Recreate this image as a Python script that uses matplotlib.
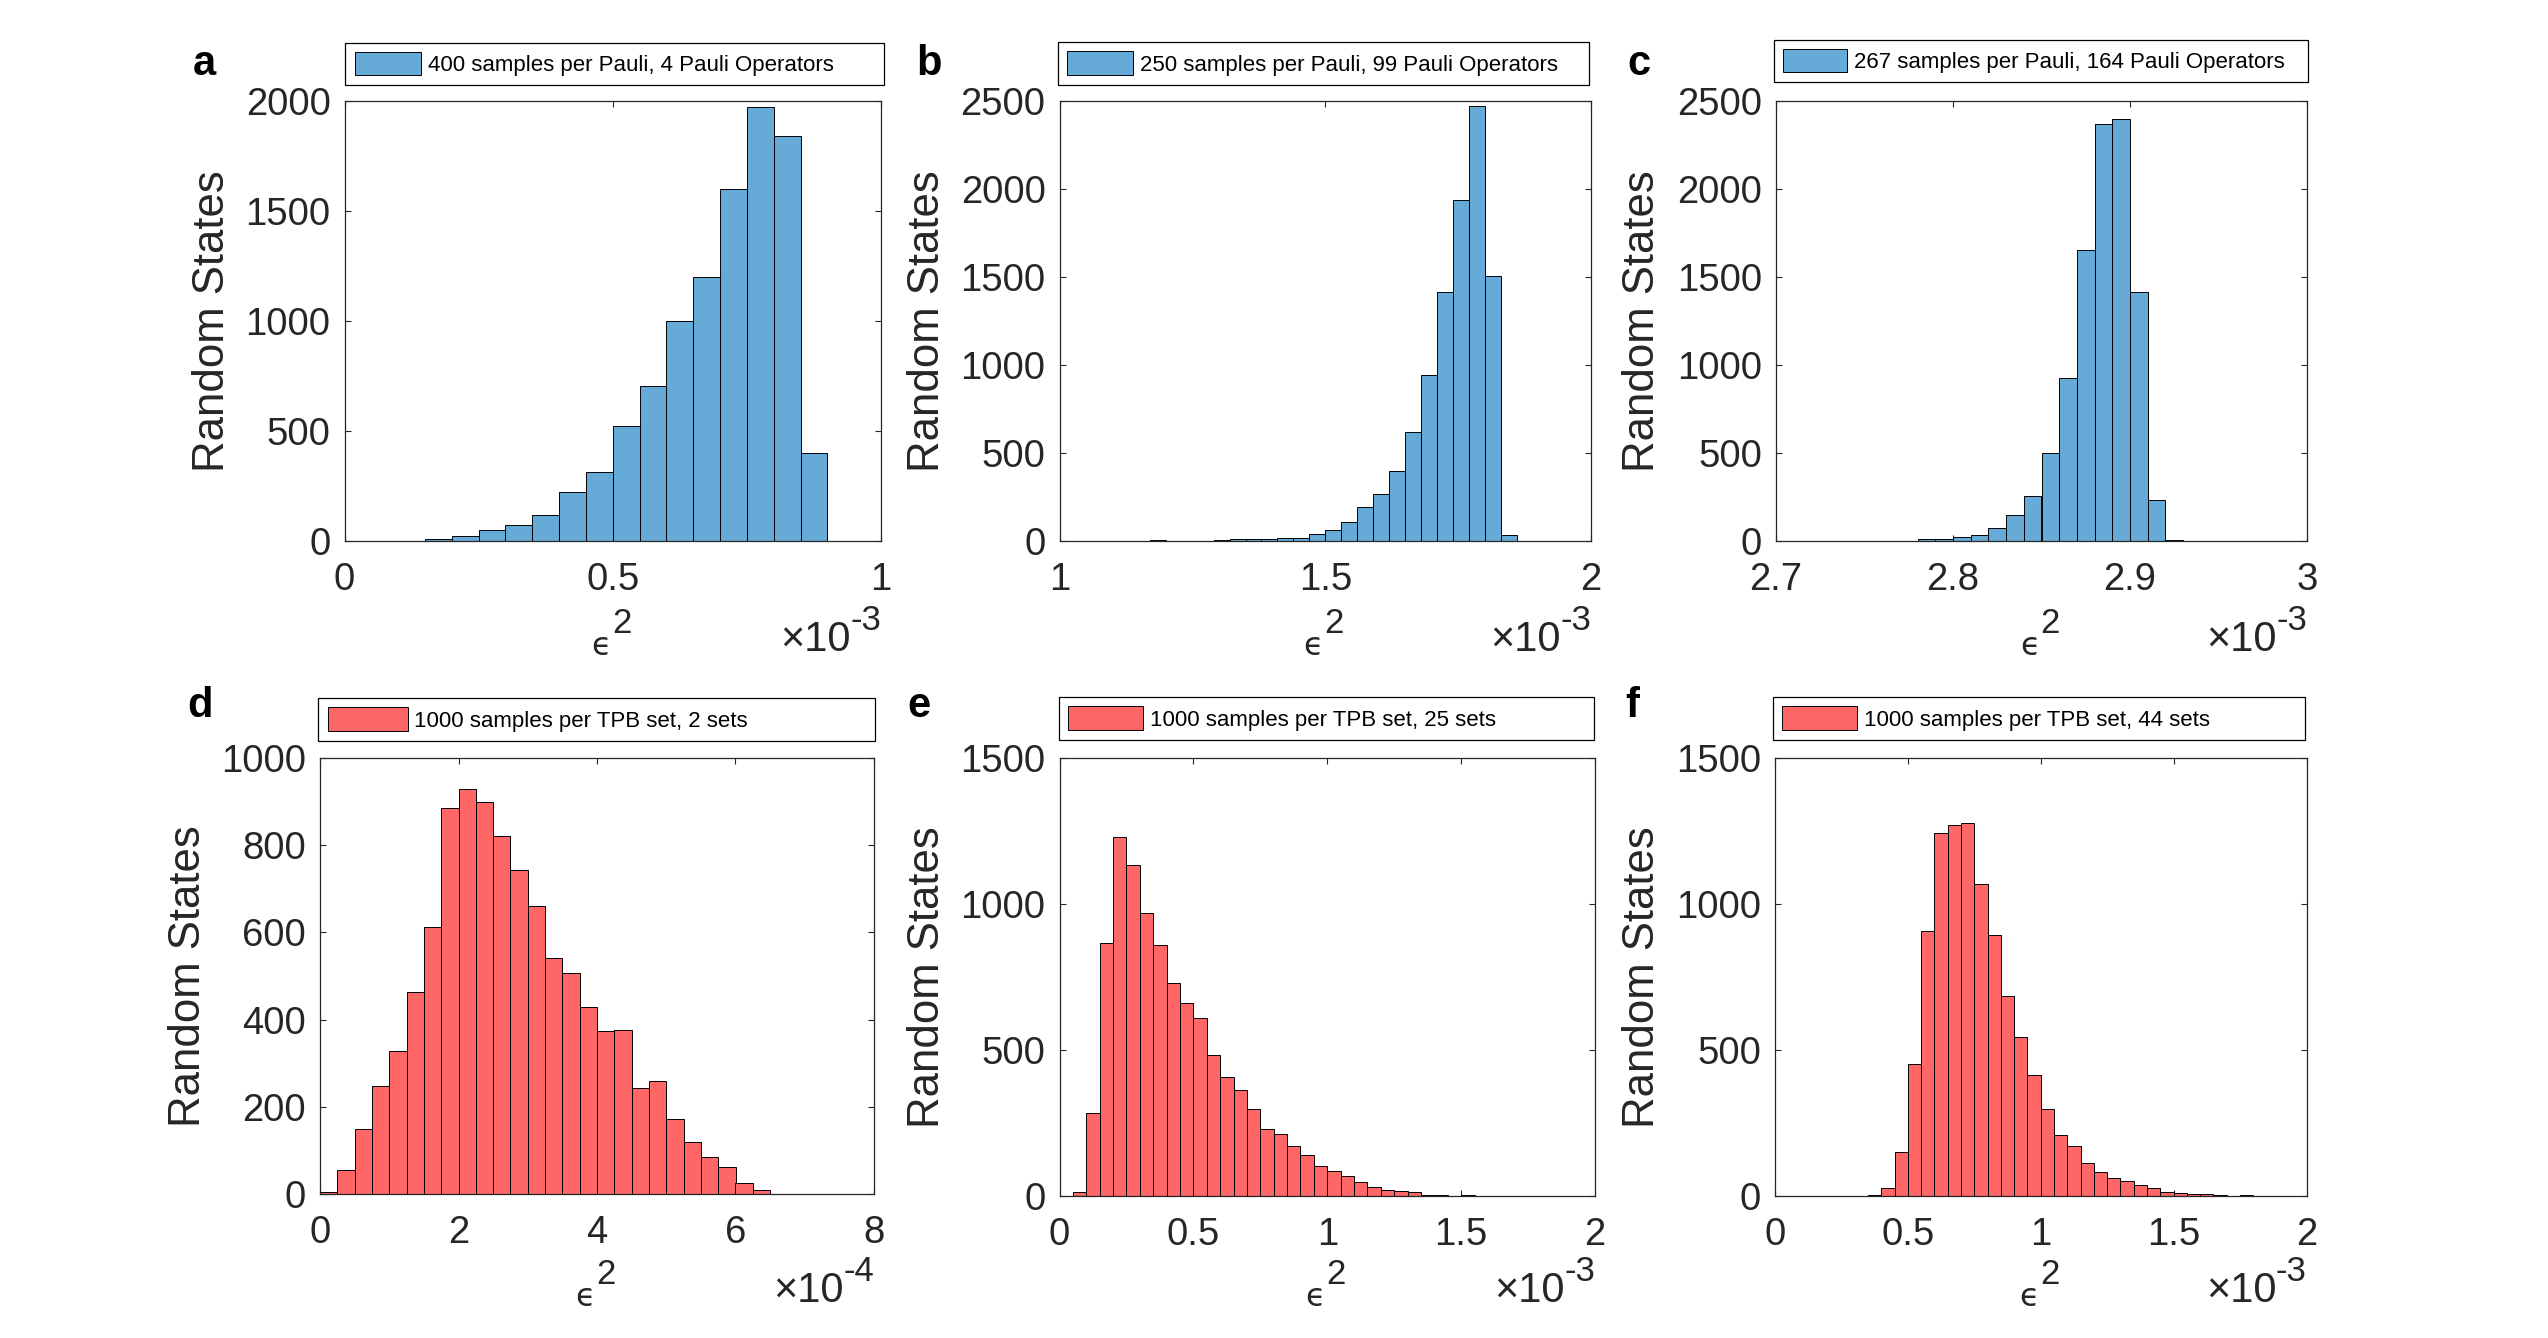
import numpy as np
import matplotlib.pyplot as plt
from matplotlib.ticker import FuncFormatter

W, H = 2548, 1338
TXT = "#262626"
BLUE = "#66AAD7"
RED = "#FF6666"

plt.rcParams["font.family"] = ["Liberation Sans", "DejaVu Sans"]

# x values are in the units printed next to each axis (x10^-3, or x10^-4 for d)
a_start, a_width = 0.15, 0.05
a_counts = [7, 21, 48, 72, 120, 222, 312, 522, 703, 1001, 1200, 1600, 1971, 1840, 398]

b_start, b_width = 1.17, 0.03
b_counts = [3, 1, 1, 2, 4, 10, 10, 11, 18, 18, 41, 63, 108, 194, 268, 395,
            620, 941, 1415, 1940, 2470, 1505, 34]

c_start, c_width = 2.73, 0.01
c_counts = [2, 2, 2, 2, 2, 11, 11, 25, 34, 74, 149, 257, 501, 925, 1656,
            2367, 2397, 1415, 232, 4]

d_start, d_width = 0.0, 0.25
d_counts = [4, 54, 148, 247, 329, 464, 612, 886, 929, 900, 821, 743, 660,
            542, 508, 428, 375, 377, 242, 260, 171, 120, 85, 62, 26, 9]

e_start, e_width = 0.05, 0.05
e_counts = [14, 285, 866, 1228, 1134, 968, 859, 728, 660, 610, 483, 406, 362,
            298, 231, 214, 170, 142, 102, 84, 70, 47, 30, 21, 17, 14, 3, 3, 1, 3]

f_start, f_width = 0.35, 0.05
f_counts = [3, 27, 149, 453, 908, 1243, 1271, 1278, 1069, 894, 686, 543, 416,
            297, 208, 170, 112, 81, 60, 50, 38, 29, 14, 10, 7, 7, 3, 0, 3]

legend_labels = [
    "400 samples per Pauli, 4 Pauli Operators",
    "250 samples per Pauli, 99 Pauli Operators",
    "267 samples per Pauli, 164 Pauli Operators",
    "1000 samples per TPB set, 2 sets",
    "1000 samples per TPB set, 25 sets",
    "1000 samples per TPB set, 44 sets",
]
letters = ["a", "b", "c", "d", "e", "f"]
exponents = ["-3", "-3", "-3", "-4", "-3", "-3"]
x_limits = [(0, 1), (1, 2), (2.7, 3), (0, 8), (0, 2), (0, 2)]
x_ticks = [[0, 0.5, 1], [1, 1.5, 2], [2.7, 2.8, 2.9, 3], [0, 2, 4, 6, 8],
           [0, 0.5, 1, 1.5, 2], [0, 0.5, 1, 1.5, 2]]
y_limits = [2000, 2500, 2500, 1000, 1500, 1500]
y_steps = [500, 500, 500, 200, 500, 500]

# pixel layout: axes (l, t, r, b), legend box (l, t, r, b), letter x, ylabel x
layout = [
    dict(axes=(344.5, 101, 881, 541), leg=(345.5, 41, 883.5, 87), let=193, yl=212, hl=3.0),
    dict(axes=(1059.5, 101, 1591, 541), leg=(1058, 40, 1589, 87), let=916, yl=927, hl=2.95),
    dict(axes=(1776, 101, 2307, 541), leg=(1773.5, 37, 2308, 85), let=1627, yl=1643, hl=2.9),
    dict(axes=(320, 758, 874, 1194), leg=(318.5, 696, 874.5, 743), let=187, yl=188, hl=3.6),
    dict(axes=(1059.5, 758, 1595, 1196), leg=(1058.5, 692, 1594, 745), let=907, yl=927, hl=3.4),
    dict(axes=(1775, 758, 2306.5, 1196), leg=(1772.5, 692, 2305, 745), let=1625, yl=1643, hl=3.4),
]
# baselines of the panel letters and the x-label pieces, per row
row_text = [
    dict(letter=75, eps=655, sq=633, ten=651, sup=630),
    dict(letter=717, eps=1306, sq=1284, ten=1302, sup=1281),
]


def fx(x):
    return x / W


def fy(y):
    return 1 - y / H


def draw_panel(fig, i, start, width, counts, color):
    lay = layout[i]
    rows = row_text[i // 3]
    l, t, r, b = lay["axes"]
    ax = fig.add_axes([fx(l), fy(b), (r - l) / W, (b - t) / H])

    edges = start + width * np.arange(len(counts) + 1)
    ax.bar(edges[:-1], counts, width=np.diff(edges), align="edge", color=color,
           edgecolor="black", linewidth=0.7, label=legend_labels[i])

    ax.set_xlim(*x_limits[i])
    ax.set_ylim(0, y_limits[i])
    ax.set_xticks(x_ticks[i])
    ax.set_yticks(np.arange(0, y_limits[i] + 1, y_steps[i]))
    fmt = FuncFormatter(lambda v, _: f"{v:g}")
    ax.xaxis.set_major_formatter(fmt)
    ax.yaxis.set_major_formatter(fmt)
    ax.set_axisbelow(True)
    ax.tick_params(direction="in", length=4, width=0.8, top=True, right=True,
                   labelsize=27.5, colors=TXT, labelcolor=TXT)
    ax.tick_params(axis="y", pad=10)
    ax.tick_params(axis="x", pad=15)
    for sp in ax.spines.values():
        sp.set_color(TXT)
        sp.set_linewidth(0.9)

    ll, lt, lr, lb = lay["leg"]
    ax.legend(loc="center", bbox_to_anchor=(fx(ll), fy(lb), (lr - ll) / W, (lb - lt) / H),
              bbox_transform=fig.transFigure, mode="expand", fontsize=16,
              handlelength=lay["hl"], handleheight=1.25, handletextpad=0.3,
              borderpad=0.42, borderaxespad=0, fancybox=False, framealpha=1,
              edgecolor="black")
    leg = ax.get_legend()
    leg.get_frame().set_linewidth(0.9)

    # panel letter
    fig.text(fx(lay["let"]), fy(rows["letter"]), letters[i], fontsize=30,
             fontweight="bold", color="black", ha="left", va="baseline")

    # y label
    fig.text(fx(lay["yl"]), fy((t + b) / 2), "Random States", fontsize=31.5,
             color=TXT, rotation=90, ha="center", va="center")

    # x label: epsilon squared, centred on the axes
    xc = (l + r) / 2
    fig.text(fx(xc - 2), fy(rows["eps"]), "\u03f5", family="DejaVu Sans",
             fontsize=23, color=TXT, ha="right", va="baseline")
    fig.text(fx(xc - 1), fy(rows["sq"]), "2", fontsize=25, color=TXT,
             ha="left", va="baseline")

    # scale factor text at the right end of the x axis
    fig.text(fx(r), fy(rows["sup"]), exponents[i], fontsize=25, color=TXT,
             ha="right", va="baseline")
    fig.text(fx(r - 30), fy(rows["ten"]), "\u00d710", fontsize=30, color=TXT,
             ha="right", va="baseline")
    return ax


def main():
    fig = plt.figure(figsize=(W / 100, H / 100), dpi=100)
    fig.patch.set_facecolor("white")

    draw_panel(fig, 0, a_start, a_width, a_counts, BLUE)
    draw_panel(fig, 1, b_start, b_width, b_counts, BLUE)
    draw_panel(fig, 2, c_start, c_width, c_counts, BLUE)
    draw_panel(fig, 3, d_start, d_width, d_counts, RED)
    draw_panel(fig, 4, e_start, e_width, e_counts, RED)
    draw_panel(fig, 5, f_start, f_width, f_counts, RED)

    fig.savefig("out.png", dpi=100, facecolor="white")


if __name__ == "__main__":
    main()
